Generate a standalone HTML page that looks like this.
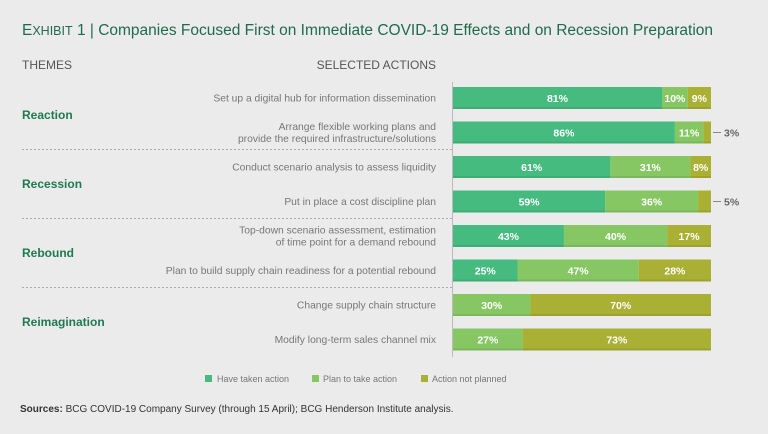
<!DOCTYPE html>
<html><head><meta charset="utf-8"><style>
body{margin:0;background:#ebebeb;}
svg{display:block;font-family:"Liberation Sans",sans-serif;}
</style></head><body>
<svg width="768" height="434" viewBox="0 0 768 434">
<rect width="768" height="434" fill="#ebebeb"/>
<text x="22" y="35" font-size="15.5" fill="#1f6b4c">E<tspan font-size="12.5">XHIBIT</tspan> 1 | Companies Focused First on Immediate COVID-19 Effects and on Recession Preparation</text>
<text x="22" y="69" font-size="12" fill="#555">THEMES</text>
<text x="436" y="69" font-size="12" fill="#555" text-anchor="end">SELECTED ACTIONS</text>
<g id="rows"></g>
<line x1="452.5" y1="82" x2="452.5" y2="357" stroke="#bbb" stroke-width="1"/>
<g>
<rect x="205" y="375" width="7" height="7" fill="#45bb7f"/>
<text x="217" y="382" font-size="9" fill="#777">Have taken action</text>
<rect x="312" y="375" width="7" height="7" fill="#86c764"/>
<text x="323" y="382" font-size="9" fill="#777">Plan to take action</text>
<rect x="421" y="375" width="7" height="7" fill="#a9b033"/>
<text x="432" y="382" font-size="9" fill="#777">Action not planned</text>
</g>
<text x="20" y="412" font-size="10" fill="#333"><tspan font-weight="bold">Sources:</tspan> BCG COVID-19 Company Survey (through 15 April); BCG Henderson Institute analysis.</text>
</svg>
<script>
const actions=[["Set up a digital hub for information dissemination"],["Arrange flexible working plans and","provide the required infrastructure/solutions"],["Conduct scenario analysis to assess liquidity"],["Put in place a cost discipline plan"],["Top-down scenario assessment, estimation","of time point for a demand rebound"],["Plan to build supply chain readiness for a potential rebound"],["Change supply chain structure"],["Modify long-term sales channel mix"]];
const taken=[81,86,61,59,43,25,0,0];
const plan=[10,11,31,36,40,47,30,27];
const notPlanned=[9,3,8,5,17,28,70,73];
const themes=["Reaction","Recession","Rebound","Reimagination"];
const colors=["#45bb7f","#86c764","#a9b033"];
const NS="http://www.w3.org/2000/svg";
const g=document.getElementById("rows");
const x0=453,W=258;
function xs(v){return v/100*W;}
function yc(i){return 98+i*34.5;}
function mk(t,a){const e=document.createElementNS(NS,t);for(const k in a)e.setAttribute(k,a[k]);g.appendChild(e);return e;}
themes.forEach((t,j)=>{
 const e=mk("text",{x:22,y:yc(j*2)+21,"font-size":12,"font-weight":"bold",fill:"#1e7a50"});
 e.textContent=t;
 
 
 if(j>0){const l=mk("line",{x1:22,x2:452,y1:yc(j*2)-17.5,y2:yc(j*2)-17.5,stroke:"#aaa","stroke-dasharray":"2,2"});
 
 }
});
actions.forEach((lines,i)=>{
 const y=yc(i);
 lines.forEach((s,k)=>{const e=mk("text",{x:436,y:y+3.5+(lines.length>1?(k-0.5)*12:0),"font-size":10.3,fill:"#777","text-anchor":"end"});e.textContent=s;
 
 });
 const vals=[taken[i],plan[i],notPlanned[i]];
 let cx=x0;
 vals.forEach((v,s)=>{
  if(!v)return;const w=xs(v);
  const r=mk("rect",{x:cx,y:y-11,width:w,height:22,fill:colors[s]});
  
  
  const b=mk("rect",{x:cx,y:y+9,width:w,height:2,fill:"#000","fill-opacity":0.08});
  
  
  if(v>=8){const t=mk("text",{x:cx+w/2,y:y+4,"font-size":10.5,"font-weight":"bold",fill:"#fff","text-anchor":"middle"});t.textContent=v+"%";
  
  }
  else{const l=mk("line",{x1:x0+W+2,x2:x0+W+10,y1:y,y2:y,stroke:"#888"});
  
  
  const t=mk("text",{x:x0+W+13,y:y+4,"font-size":10.5,"font-weight":"bold",fill:"#666"});t.textContent=v+"%";
  
  }
  cx+=w;
 });
});
</script>
</body></html>
